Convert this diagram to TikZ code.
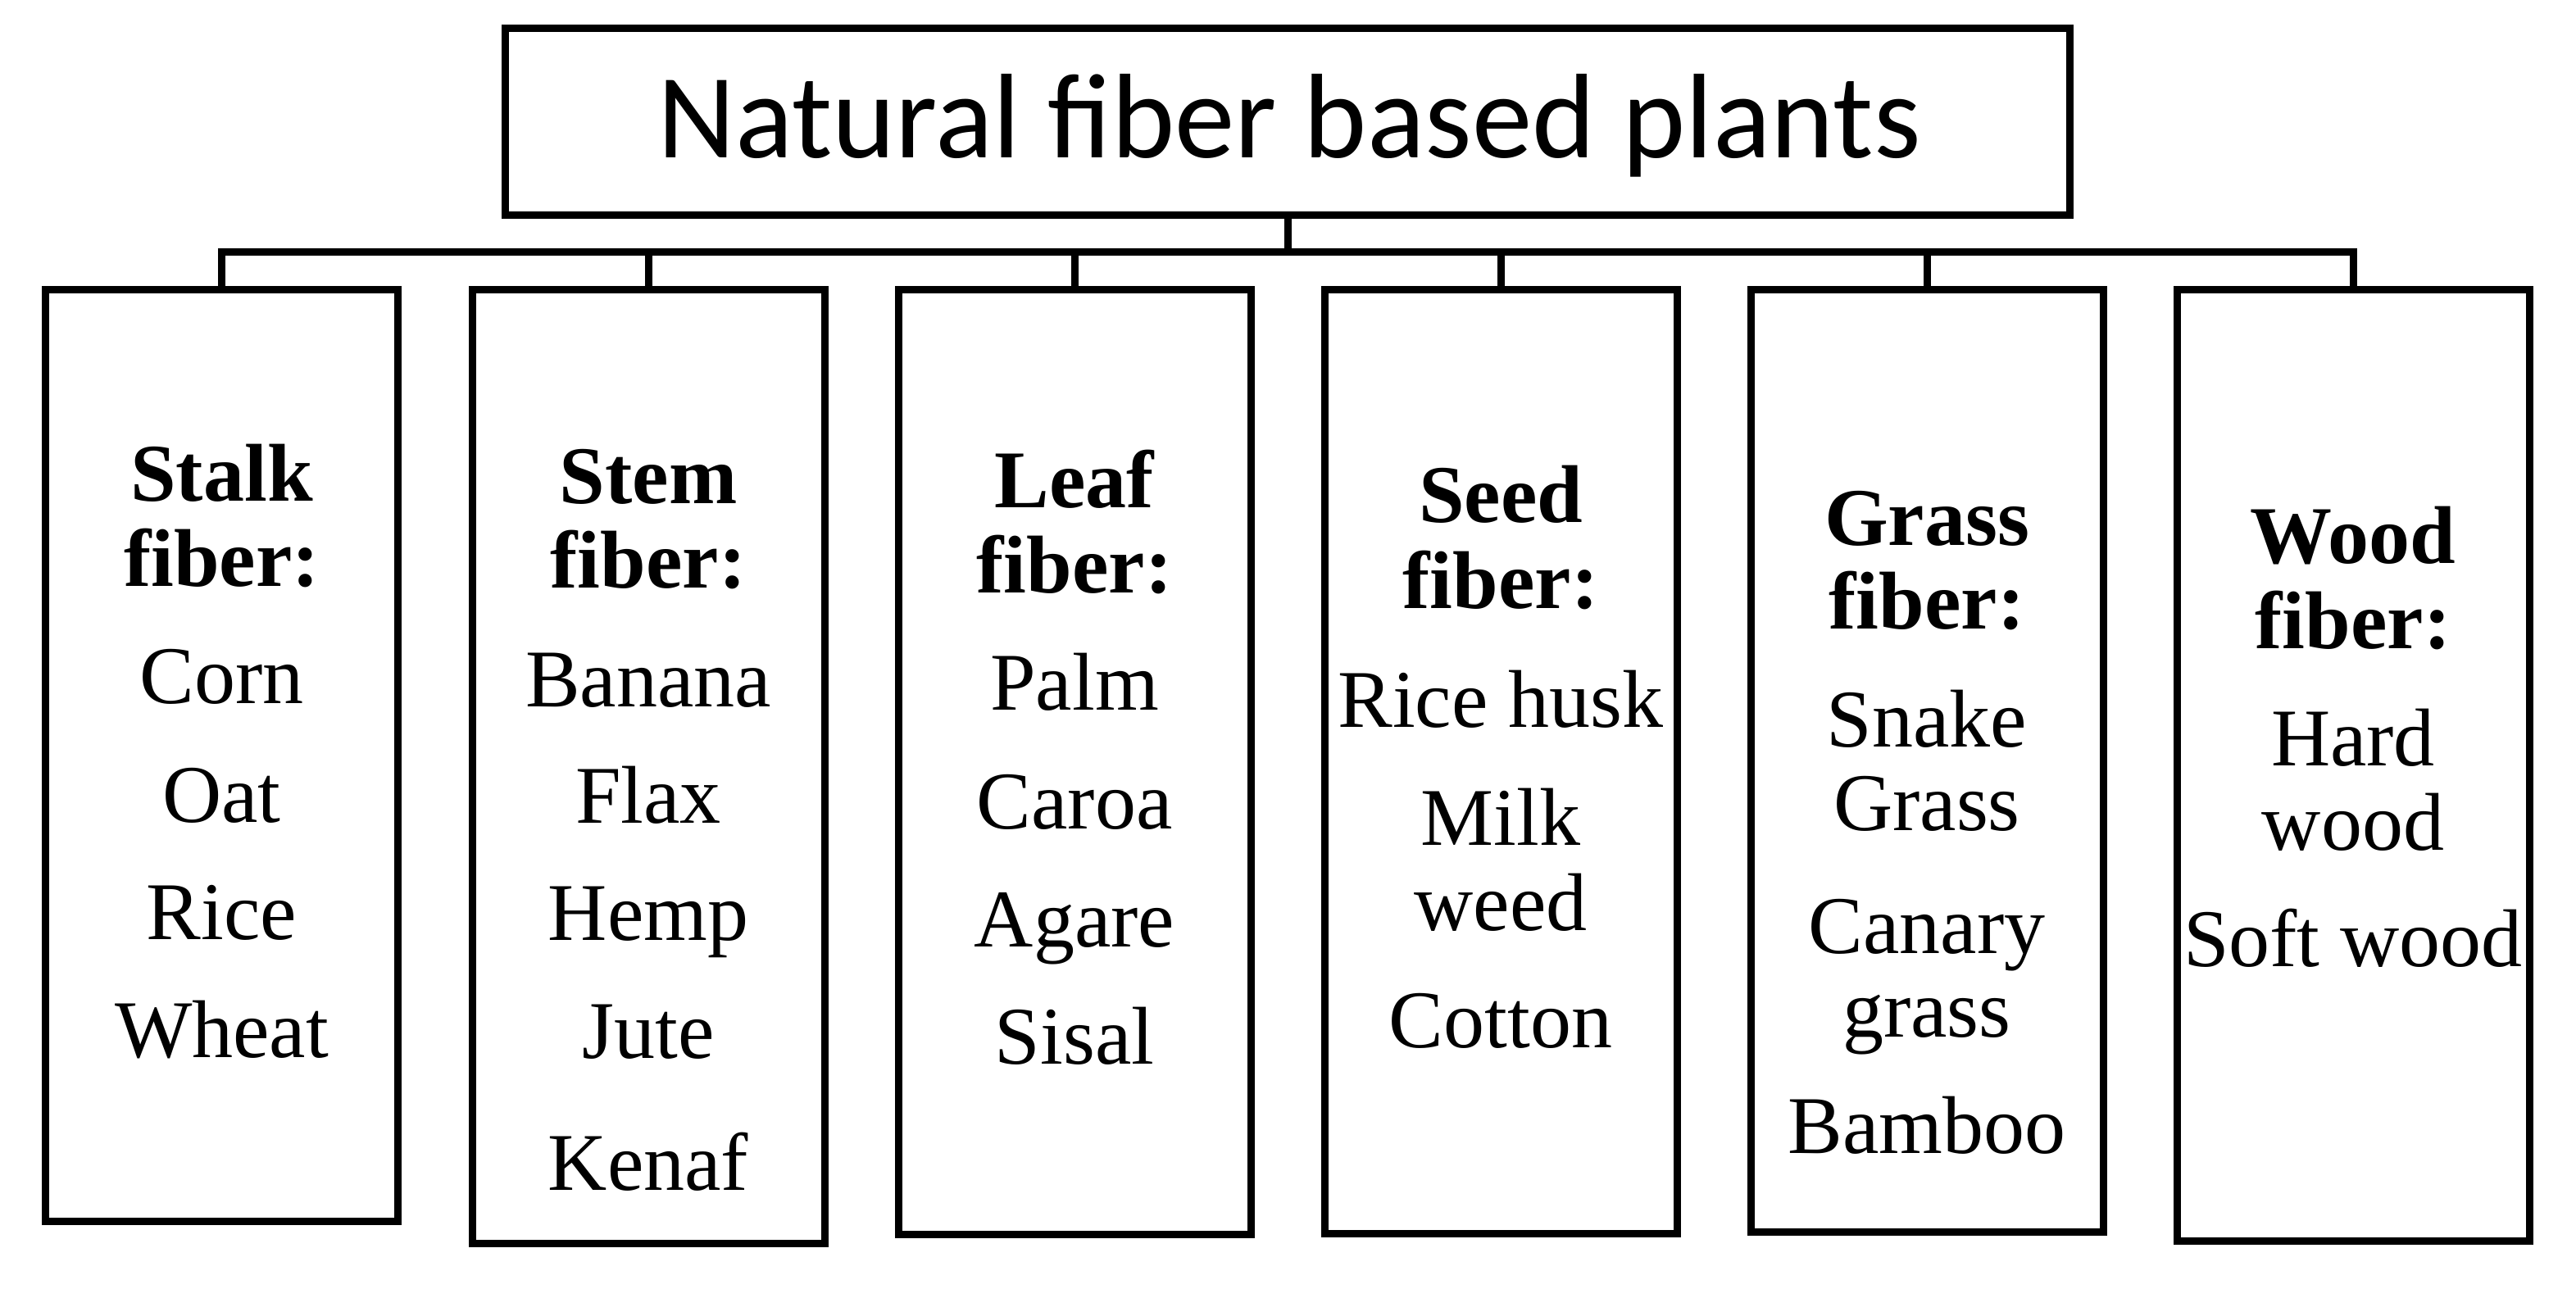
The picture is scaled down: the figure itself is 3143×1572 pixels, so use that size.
\documentclass[tikz,border=0pt]{standalone}
\usepackage{fontspec}
\setmainfont{Liberation Serif}
\newfontfamily\titlefont{Carlito}
\begin{document}
\begin{tikzpicture}[x=1pt,y=-1pt,
  box/.style={draw, line width=9pt, rectangle, inner sep=0pt, outer sep=0pt, minimum width=430pt},
  conn/.style={draw, line width=9pt},
  ttl/.style={anchor=base, inner sep=0pt, font=\titlefont\fontsize{147}{170}\selectfont},
  hd/.style={anchor=base, inner sep=0pt, font=\fontsize{100}{120}\selectfont\bfseries},
  it/.style={anchor=base, inner sep=0pt, font=\fontsize{100}{120}\selectfont}]
\useasboundingbox (0,0) rectangle (3143,1572);

% top box
\node[box, minimum width=1909pt, minimum height=228pt] (top) at (1571,148.5) {};
\node[ttl] (title) at (1573,192) {Natural fiber based plants};

% category boxes
\node[box, minimum height=1137pt] (b1) at (270.5,921.5) {};
\node[box, minimum height=1164pt] (b2) at (791,935) {};
\node[box, minimum height=1153pt] (b3) at (1311,929.5) {};
\node[box, minimum height=1152pt] (b4) at (1831,929) {};
\node[box, minimum height=1150pt] (b5) at (2351,928) {};
\node[box, minimum height=1161pt] (b6) at (2871,933.5) {};

% connectors
\coordinate (bar) at (1571,307.5);
\draw[conn] (b1.north) |- (bar) -| (b6.north);
\draw[conn] (top.south) -- (bar);
\foreach \i in {2,...,5} \draw[conn] (b\i.north) -- (b\i.north |- bar);

% box 1
\node[hd] (h1a) at (270.5,611) {Stalk};
\node[hd] (h1b) at (270.5,715) {fiber:};
\foreach \yy/\tt [count=\k] in {858/Corn,1003/Oat,1146/Rice,1290/Wheat}
  \node[it, name=i1-\k] at (270.5,\yy) {\tt};

% box 2
\node[hd] (h2a) at (791,614) {Stem};
\node[hd] (h2b) at (791,717) {fiber:};
\foreach \yy/\tt [count=\k] in {862/Banana,1004/Flax,1147/Hemp,1291/Jute,1452/Kenaf}
  \node[it, name=i2-\k] at (791,\yy) {\tt};

% box 3
\node[hd] (h3a) at (1311,619) {Leaf};
\node[hd] (h3b) at (1311,723) {fiber:};
\foreach \yy/\tt [count=\k] in {866/Palm,1011/Caroa,1155/Agare,1298/Sisal}
  \node[it, name=i3-\k] at (1311,\yy) {\tt};

% box 4
\node[hd] (h4a) at (1831,637) {Seed};
\node[hd] (h4b) at (1831,742) {fiber:};
\foreach \yy/\tt [count=\k] in {887/Rice husk,1031/Milk,1135/weed,1278/Cotton}
  \node[it, name=i4-\k] at (1831,\yy) {\tt};

% box 5
\node[hd] (h5a) at (2351,665) {Grass};
\node[hd] (h5b) at (2351,767) {fiber:};
\foreach \yy/\tt [count=\k] in {911/Snake,1013/Grass,1163/Canary,1265/grass,1407/Bamboo}
  \node[it, name=i5-\k] at (2351,\yy) {\tt};

% box 6
\node[hd] (h6a) at (2871,687) {Wood};
\node[hd] (h6b) at (2871,791) {fiber:};
\foreach \yy/\tt [count=\k] in {934/Hard,1037/wood,1179/Soft wood}
  \node[it, name=i6-\k] at (2871,\yy) {\tt};
\end{tikzpicture}
\end{document}
